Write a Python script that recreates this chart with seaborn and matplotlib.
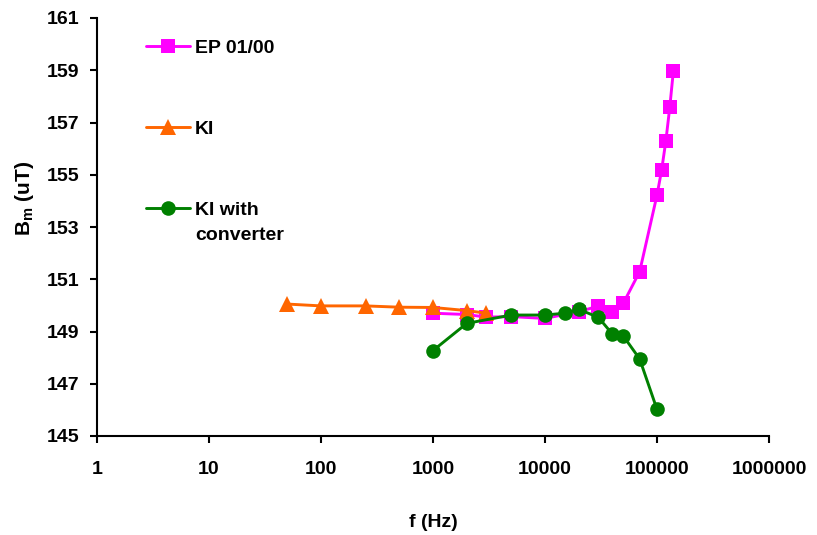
import matplotlib
matplotlib.use("Agg")
import matplotlib.pyplot as plt
import matplotlib.ticker as mticker
import seaborn as sns
import numpy as np

# ---- data ----
ep_f = [1000, 2000, 3000, 5000, 10000, 20000, 30000, 40000, 50000, 70000,
        100000, 110000, 120000, 130000, 140000]
ep_b = [149.70, 149.65, 149.55, 149.57, 149.50, 149.76, 149.97, 149.76, 150.08, 151.29,
        154.22, 155.18, 156.30, 157.58, 158.97]

ki_f = [50, 100, 250, 500, 1000, 2000, 3000]
ki_b = [150.05, 149.98, 149.98, 149.93, 149.92, 149.80, 149.70]

kc_f = [1000, 2000, 5000, 10000, 15000, 20000, 30000, 40000, 50000, 70000, 100000]
kc_b = [148.27, 149.31, 149.63, 149.63, 149.70, 149.85, 149.54, 148.90, 148.83, 147.95, 146.02]

x_ticks = [1, 10, 100, 1000, 10000, 100000, 1000000]
x_tick_labels = ["1", "10", "100", "1000", "10000", "100000", "1000000"]
y_ticks = [145, 147, 149, 151, 153, 155, 157, 159, 161]

labels = ["EP 01/00", "KI", "KI with"]
label_extra = "converter"

# ---- style ----
sns.set_style("ticks")
plt.rcParams["font.family"] = ["Liberation Sans", "DejaVu Sans"]
plt.rcParams["font.weight"] = "bold"
plt.rcParams["text.color"] = "black"
plt.rcParams["axes.labelcolor"] = "black"
plt.rcParams["mathtext.fontset"] = "custom"
plt.rcParams["mathtext.bf"] = "Liberation Sans:bold"
plt.rcParams["mathtext.rm"] = "Liberation Sans:bold"

FS = 14

fig = plt.figure(figsize=(8.17, 5.35), dpi=100)
ax = fig.add_axes([97 / 817, 1 - 436 / 535, (769 - 97) / 817, (436 - 18) / 535])

lw = 2.1
sns.lineplot(x=ep_f, y=ep_b, ax=ax, color="#FF00FF", marker="s", markersize=9.5,
             markeredgewidth=0, linewidth=lw, sort=False, label=labels[0], zorder=3)
sns.lineplot(x=ki_f, y=ki_b, ax=ax, color="#FF6600", marker="^", markersize=11,
             markeredgewidth=0, linewidth=lw, sort=False, label=labels[1], zorder=4)
sns.lineplot(x=kc_f, y=kc_b, ax=ax, color="#008000", marker="o", markersize=10.5,
             markeredgewidth=0, linewidth=lw, sort=False, label=labels[2], zorder=5)

ax.set_xscale("log")
ax.set_xlim(1, 1000000)
ax.set_ylim(145, 161)
ax.xaxis.set_major_locator(mticker.FixedLocator(x_ticks))
ax.xaxis.set_major_formatter(mticker.FixedFormatter(x_tick_labels))
ax.xaxis.set_minor_locator(mticker.NullLocator())
ax.set_yticks(y_ticks)

for s in ["top", "right"]:
    ax.spines[s].set_visible(False)
for s in ["left", "bottom"]:
    ax.spines[s].set_linewidth(1.5)
    ax.spines[s].set_color("black")
ax.tick_params(axis="both", direction="out", length=5, width=1.5, colors="black",
               labelsize=FS)
ax.tick_params(axis="y", pad=8)
ax.tick_params(axis="x", pad=13)
for t in ax.get_xticklabels() + ax.get_yticklabels():
    t.set_fontweight("bold")

ax.set_xlabel("f (Hz)", fontsize=FS, fontweight="bold", labelpad=26)
ax.set_ylabel(r"B$_{\mathbf{m}}$ (uT)", fontsize=15, fontweight="bold")
ax.yaxis.set_label_coords(-0.091, 0.569)

leg = ax.legend(loc="upper left", bbox_to_anchor=(0.061, 0.968), frameon=False,
                prop={"size": FS, "weight": "bold"}, handlelength=2.26,
                handletextpad=0.26, labelspacing=3.27, borderaxespad=0)
for t in leg.get_texts():
    t.set_color("black")

fig.canvas.draw()
texts = leg.get_texts()
bb = texts[2].get_window_extent(fig.canvas.get_renderer())
fig.text(bb.x0, bb.y0 - 8, label_extra, transform=None, ha="left", va="top",
         fontsize=FS, fontweight="bold", color="black")

fig.savefig("out.png", dpi=100, facecolor="white")
